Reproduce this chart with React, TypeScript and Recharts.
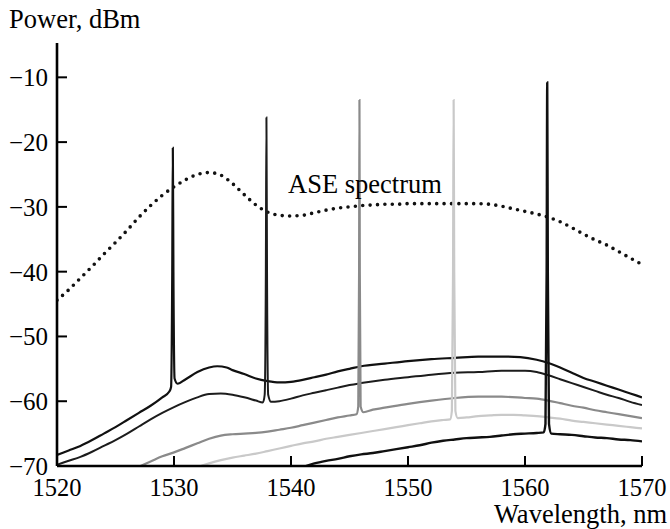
import React from 'react';
import { LineChart, Line, XAxis, YAxis } from 'recharts';

type Pt = { x: number; y: number };
const pts = (rows: number[][]): Pt[] => rows.map(([x, y]) => ({ x, y }));

const xTicks = [1520, 1530, 1540, 1550, 1560, 1570];
const yTicks = [-70, -60, -50, -40, -30, -20, -10];

// ASE spectrum (dotted)
const aseSpectrum = pts([
  [1520, -44.4], [1521, -42.8], [1522, -41.0], [1523, -39.2], [1524, -37.3], [1525, -35.5],
  [1526, -33.6], [1527, -31.6], [1528, -29.8], [1529, -28.2], [1530, -26.9], [1531, -25.8],
  [1532, -25.0], [1533, -24.7], [1534, -25.1], [1535, -26.4], [1536, -28.1], [1537, -29.7],
  [1538, -30.8], [1539, -31.3], [1540, -31.4], [1541, -31.3], [1542, -30.9], [1543, -30.5],
  [1544, -30.2], [1545, -30.0], [1546, -29.8], [1547, -29.7], [1548, -29.6], [1549, -29.6],
  [1550, -29.5], [1551, -29.5], [1552, -29.5], [1553, -29.5], [1554, -29.5], [1555, -29.5],
  [1556, -29.5], [1557, -29.6], [1558, -29.9], [1559, -30.3], [1560, -30.7], [1561, -31.1],
  [1562, -31.6], [1563, -32.3], [1564, -33.2], [1565, -34.2], [1566, -35.1], [1567, -35.9],
  [1568, -36.9], [1569, -37.9], [1570, -38.9],
]);

// laser at 1530 nm
const signal1530 = pts([
  [1520, -68.3], [1521, -67.6], [1522, -66.9], [1523, -66.0], [1524, -65.0], [1525, -64.0],
  [1526, -62.9], [1527, -61.8], [1528, -60.7], [1529, -59.4], [1529.6, -58.5], [1529.75, -57.8],
  [1529.85, -40], [1529.9, -20.9], [1529.95, -40], [1530.05, -56.5], [1530.3, -57.3],
  [1531, -56.6], [1532, -55.5], [1533, -54.8], [1533.7, -54.6], [1534.5, -54.8], [1535, -55.2],
  [1536, -55.8], [1537, -56.5], [1538, -56.9], [1539, -57.1], [1540, -57.0], [1541, -56.7],
  [1542, -56.3], [1543, -55.9], [1544, -55.4], [1545, -55.0], [1546, -54.6], [1548, -54.2],
  [1550, -53.8], [1552, -53.5], [1554, -53.3], [1556, -53.1], [1558, -53.1], [1559.6, -53.2],
  [1561, -53.6], [1562, -54.1], [1563, -54.8], [1564, -55.6], [1565, -56.4], [1566, -57.0],
  [1567, -57.6], [1568, -58.2], [1569, -58.8], [1570, -59.4],
]);

// laser at 1538 nm
const signal1538 = pts([
  [1520, -69.8], [1521, -69.2], [1522, -68.6], [1523, -67.8], [1524, -66.9], [1525, -66.0],
  [1526, -65.0], [1527, -63.9], [1528, -62.8], [1529, -61.8], [1530, -60.9], [1531, -60.1],
  [1532, -59.4], [1533, -58.9], [1534, -58.8], [1535, -59.0], [1536, -59.4], [1537, -59.9],
  [1537.6, -60.2], [1537.75, -59.0], [1537.85, -40], [1537.9, -16.2], [1537.95, -40],
  [1538.05, -59.0], [1538.3, -60.1], [1539, -60.0], [1540, -59.6], [1541, -59.1], [1542, -58.7],
  [1543, -58.3], [1544, -57.9], [1545, -57.5], [1546, -57.2], [1548, -56.7], [1550, -56.3],
  [1552, -55.9], [1554, -55.6], [1556, -55.5], [1558, -55.3], [1560, -55.3], [1561, -55.5],
  [1562, -56.0], [1563, -56.6], [1564, -57.2], [1565, -57.8], [1566, -58.4], [1567, -59.0],
  [1568, -59.5], [1569, -60.1], [1570, -60.6],
]);

// laser at 1546 nm
const signal1546 = pts([
  [1525, -71.5], [1527, -70.1], [1528, -69.3], [1529, -68.5], [1530, -67.9], [1531, -67.2],
  [1532, -66.5], [1533, -65.8], [1534, -65.3], [1535, -65.1], [1536, -65.0], [1537, -64.9],
  [1538, -64.7], [1539, -64.4], [1540, -64.1], [1541, -63.7], [1542, -63.3], [1543, -62.9],
  [1544, -62.5], [1545, -62.2], [1545.6, -62.0], [1545.75, -60.8], [1545.82, -40],
  [1545.85, -13.5], [1545.88, -40], [1545.95, -60.8], [1546.2, -61.7], [1547, -61.3],
  [1548, -61.0], [1550, -60.4], [1552, -59.9], [1554, -59.5], [1556, -59.3], [1558, -59.3],
  [1560, -59.5], [1561, -59.6], [1562, -59.9], [1563, -60.3], [1564, -60.7], [1565, -61.0],
  [1566, -61.4], [1567, -61.7], [1568, -62.0], [1569, -62.3], [1570, -62.6],
]);

// laser at 1554 nm
const signal1554 = pts([
  [1531, -71.0], [1532, -70.2], [1533, -69.6], [1534, -69.1], [1535, -68.7], [1536, -68.4],
  [1537, -68.1], [1538, -67.7], [1539, -67.3], [1540, -66.9], [1541, -66.5], [1542, -66.2],
  [1543, -65.8], [1544, -65.5], [1545, -65.2], [1546, -64.9], [1547, -64.6], [1548, -64.3],
  [1549, -64.0], [1550, -63.7], [1551, -63.4], [1552, -63.1], [1553, -62.9], [1553.6, -62.8],
  [1553.75, -61.5], [1553.85, -40], [1553.9, -13.5], [1553.95, -40], [1554.05, -61.5],
  [1554.25, -62.6], [1555, -62.5], [1556, -62.3], [1557, -62.2], [1558, -62.1], [1559, -62.1],
  [1560, -62.2], [1561, -62.3], [1562, -62.5], [1563, -62.7], [1564, -63.0], [1565, -63.2],
  [1566, -63.4], [1567, -63.6], [1568, -63.8], [1569, -64.0], [1570, -64.2],
]);

// laser at 1562 nm
const signal1562 = pts([
  [1540, -70.8], [1541, -70.2], [1542, -69.6], [1543, -69.2], [1544, -68.9], [1545, -68.5],
  [1546, -68.2], [1547, -68.0], [1548, -67.7], [1549, -67.4], [1550, -67.1], [1551, -66.8],
  [1552, -66.4], [1553, -66.1], [1554, -65.9], [1555, -65.7], [1556, -65.6], [1557, -65.5],
  [1558, -65.3], [1559, -65.1], [1560, -65.0], [1561, -64.9], [1561.6, -64.8], [1561.75, -63.5],
  [1561.85, -40], [1561.9, -10.8], [1561.95, -40], [1562.05, -63.5], [1562.25, -65.0],
  [1563, -65.1], [1564, -65.2], [1565, -65.4], [1566, -65.6], [1567, -65.7], [1568, -65.9],
  [1569, -66.0], [1570, -66.2],
]);

const FONT = "'Liberation Serif', 'DejaVu Serif', serif";
const textStyle = { fontFamily: FONT };
const minus = (v: number) => (v < 0 ? '\u2212' + Math.abs(v) : String(v));

const XTick = (props: any) => {
  const { x, y, payload } = props;
  return (
    <g>
      <line x1={x} y1={y} x2={x} y2={y - 10} stroke="#000" strokeWidth={2} />
      <text x={x} y={y + 30} textAnchor="middle" fontSize={24.5} style={textStyle} fill="#000">
        {payload.value}
      </text>
    </g>
  );
};

const YTick = (props: any) => {
  const { x, y, payload } = props;
  return (
    <g>
      <line x1={x} y1={y} x2={x + 10} y2={y} stroke="#000" strokeWidth={2} />
      <text x={x - 9} y={y + 9} textAnchor="end" fontSize={25} style={textStyle} fill="#000">
        {minus(payload.value)}
      </text>
    </g>
  );
};

const series = [
  { data: signal1530, color: '#111111', w: 2.2 },
  { data: signal1538, color: '#1c1c1c', w: 2 },
  { data: signal1546, color: '#8a8a8a', w: 2.2 },
  { data: signal1554, color: '#c9c9c9', w: 2.2 },
  { data: signal1562, color: '#101010', w: 2.4 },
];

export default function App() {
  return (
    <div style={{ position: 'absolute', left: 0, top: 0, width: 670, height: 529, background: '#fff' }}>
      <LineChart width={670} height={529} margin={{ top: 43, right: 28, bottom: 23, left: 8 }}>
        <XAxis
          type="number"
          dataKey="x"
          domain={[1520, 1570]}
          ticks={xTicks}
          allowDataOverflow
          height={40}
          tickSize={0}
          tickMargin={0}
          tickLine={false}
          axisLine={{ stroke: '#000', strokeWidth: 2.6 }}
          tick={(p: any) => <XTick {...p} />}
          interval={0}
        />
        <YAxis
          type="number"
          dataKey="y"
          domain={[-70, -4.7]}
          ticks={yTicks}
          allowDataOverflow
          width={49}
          tickSize={0}
          tickMargin={0}
          tickLine={false}
          axisLine={{ stroke: '#000', strokeWidth: 2.6 }}
          tick={(p: any) => <YTick {...p} />}
          interval={0}
        />
        <Line
          data={aseSpectrum}
          dataKey="y"
          type="monotone"
          stroke="#111"
          strokeWidth={3.6}
          strokeDasharray="0 7.4"
          strokeLinecap="round"
          dot={false}
          isAnimationActive={false}
        />
        {series.map((s, i) => (
          <Line
            key={i}
            data={s.data}
            dataKey="y"
            type="monotone"
            stroke={s.color}
            strokeWidth={s.w}
            dot={false}
            isAnimationActive={false}
          />
        ))}
      </LineChart>
      <svg
        width={670}
        height={529}
        style={{ position: 'absolute', left: 0, top: 0, pointerEvents: 'none' }}
      >
        <text x={9} y={28} fontSize={26.5} style={textStyle} fill="#000">Power, dBm</text>
        <text x={667} y={523} textAnchor="end" fontSize={26.5} style={textStyle} fill="#000">
          Wavelength, nm
        </text>
        <text x={288} y={193} fontSize={26.5} style={textStyle} fill="#000">ASE spectrum</text>
      </svg>
    </div>
  );
}
